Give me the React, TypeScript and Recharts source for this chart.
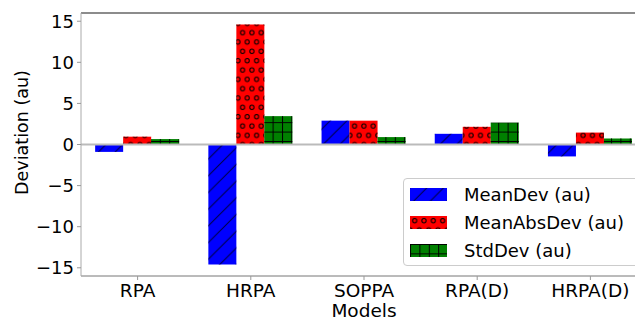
import React from 'react';
import { BarChart, Bar, XAxis, YAxis, ReferenceLine } from 'recharts';

const models = ['RPA', 'HRPA', 'SOPPA', 'RPA(D)', 'HRPA(D)'];
const meanDev = [-0.9, -14.6, 2.9, 1.3, -1.45];
const meanAbsDev = [0.95, 14.6, 2.9, 2.15, 1.45];
const stdDev = [0.66, 3.45, 0.9, 2.65, 0.73];
const yTicks = [-15, -10, -5, 0, 5, 10, 15];

const series = [
  { key: 'meanDev', name: 'MeanDev (au)', color: '#0000ff', pattern: 'hatch-slash' },
  { key: 'meanAbsDev', name: 'MeanAbsDev (au)', color: '#ff0000', pattern: 'hatch-circle' },
  { key: 'stdDev', name: 'StdDev (au)', color: '#008000', pattern: 'hatch-plus' },
];

const data = models.map((m, i) => ({
  model: m,
  meanDev: meanDev[i],
  meanAbsDev: meanAbsDev[i],
  stdDev: stdDev[i],
}));

const FONT = '"DejaVu Sans", sans-serif';

function fmtTick(v: number) {
  return v < 0 ? `\u2212${Math.abs(v)}` : `${v}`;
}

// hatch patterns, referenced by url(#id) from the chart svg
function Patterns() {
  return (
    <svg width={0} height={0} style={{ position: 'absolute' }}>
      <defs>
        <pattern id="hatch-slash" patternUnits="userSpaceOnUse" width={16.7} height={16.7}>
          <path
            d="M0 16.7 L16.7 0 M-2 2 L2 -2 M14.7 18.7 L18.7 14.7"
            stroke="#000040"
            strokeWidth={1}
          />
        </pattern>
        <pattern id="hatch-circle" patternUnits="userSpaceOnUse" width={9.33} height={18.67}>
          <circle cx={4.67} cy={4.67} r={2.1} fill="none" stroke="#000" strokeWidth={1} />
          <circle cx={0} cy={14} r={2.1} fill="none" stroke="#000" strokeWidth={1} />
          <circle cx={9.33} cy={14} r={2.1} fill="none" stroke="#000" strokeWidth={1} />
        </pattern>
        <pattern id="hatch-plus" patternUnits="userSpaceOnUse" width={9.4} height={9.4}>
          <path d="M0 0.5 H9.4 M0.5 0 V9.4" stroke="#000" strokeWidth={1} />
        </pattern>
      </defs>
    </svg>
  );
}

function makeShape(color: string, pattern: string) {
  return (props: any) => {
    const { x, y, width, height } = props;
    const top = Math.min(y, y + height);
    const h = Math.abs(height);
    return (
      <g>
        <rect x={x} y={top} width={width} height={h} fill={color} />
        <rect x={x} y={top} width={width} height={h} fill={`url(#${pattern})`} />
      </g>
    );
  };
}

function LegendBox() {
  return (
    <div
      style={{
        position: 'absolute',
        left: 403,
        top: 178,
        width: 250,
        height: 88,
        border: '1px solid #cccccc',
        borderRadius: 4,
        background: 'rgba(255,255,255,0.8)',
        fontFamily: FONT,
        fontSize: 18,
        boxSizing: 'border-box',
        paddingTop: 2,
      }}
    >
      {series.map((s) => (
        <div key={s.key} style={{ display: 'flex', alignItems: 'center', height: 27.7 }}>
          <svg width={37} height={13} style={{ marginLeft: 6, marginRight: 17 }}>
            <rect x={0} y={0} width={37} height={13} fill={s.color} />
            <rect x={0} y={0} width={37} height={13} fill={`url(#${s.pattern})`} />
          </svg>
          <span style={{ color: '#000', whiteSpace: 'nowrap' }}>{s.name}</span>
        </div>
      ))}
    </div>
  );
}

export default function App() {
  return (
    <div
      style={{
        position: 'absolute',
        left: 0,
        top: 0,
        width: 635,
        height: 320,
        overflow: 'hidden',
        background: '#fff',
      }}
    >
      <Patterns />
      <BarChart
        width={660}
        height={320}
        data={data}
        margin={{ top: 13, right: 13, left: 0, bottom: 0 }}
        barCategoryGap="12.5%"
        barGap={0}
      >
        <XAxis
          dataKey="model"
          height={44}
          tick={{ fontSize: 18.5, fill: '#000', fontFamily: FONT }}
          tickLine={{ stroke: '#999' }}
          tickSize={4}
          tickMargin={4}
          axisLine={{ stroke: '#777' }}
          interval={0}
          label={{
            content: ({ viewBox }: any) => (
              <text
                x={viewBox.x + viewBox.width / 2}
                y={viewBox.y + viewBox.height - 3.5}
                textAnchor="middle"
                fontSize={18.5}
                fontFamily={FONT}
                fill="#000"
              >
                Models
              </text>
            ),
          }}
        />
        <YAxis
          width={81}
          domain={[-16, 16]}
          ticks={yTicks}
          tickFormatter={fmtTick}
          tick={{ fontSize: 18, fill: '#000', fontFamily: FONT }}
          tickLine={{ stroke: '#999' }}
          tickSize={4}
          tickMargin={3}
          axisLine={{ stroke: '#aaa' }}
          label={{
            content: ({ viewBox }: any) => {
              const cx = viewBox.x + 22;
              const cy = viewBox.y + viewBox.height / 2 - 12;
              return (
                <text
                  x={cx}
                  y={cy}
                  transform={`rotate(-90 ${cx} ${cy})`}
                  textAnchor="middle"
                  dominantBaseline="central"
                  fontSize={17.5}
                  fontFamily={FONT}
                  fill="#000"
                >
                  Deviation (au)
                </text>
              );
            },
          }}
        />
        <ReferenceLine y={0} stroke="#bbbbbb" strokeWidth={2} />
        <ReferenceLine y={16} stroke="#666666" strokeWidth={1.5} />
        {series.map((s) => (
          <Bar
            key={s.key}
            dataKey={s.key}
            name={s.name}
            fill={s.color}
            shape={makeShape(s.color, s.pattern)}
            isAnimationActive={false}
          />
        ))}
      </BarChart>
      <LegendBox />
    </div>
  );
}
